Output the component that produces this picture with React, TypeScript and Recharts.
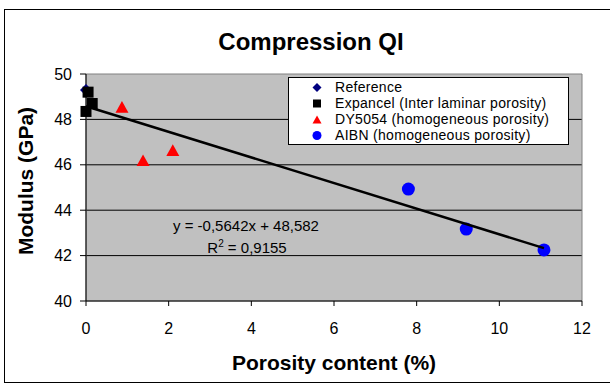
import React from "react";
import { CartesianGrid, ReferenceArea, Scatter, ScatterChart, XAxis, YAxis } from "recharts";

const title = "Compression QI";
const xLabel = "Porosity content (%)";
const yLabel = "Modulus (GPa)";
const equation = "y = -0,5642x + 48,582";
const rSquared = "0,9155";

const seriesNames = [
  "Reference",
  "Expancel (Inter laminar porosity)",
  "DY5054 (homogeneous porosity)",
  "AIBN (homogeneous porosity)"
];

const referenceX = [0];
const referenceY = [49.3];
const expancelX = [0.05, 0.15, 0.0];
const expancelY = [49.2, 48.7, 48.35];
const dy5054X = [0.87, 1.38, 2.1];
const dy5054Y = [48.55, 46.2, 46.65];
const aibnX = [7.8, 9.2, 11.08];
const aibnY = [44.93, 43.17, 42.25];
const trendX = [0, 11.08];
const trendY = [48.582, 42.33];

const xTicks = [0, 2, 4, 6, 8, 10, 12];
const yTicks = [40, 42, 44, 46, 48, 50];
const gridValues = [42, 44, 46, 48];

function toPoints(xs: number[], ys: number[]) {
  return xs.map((x, i) => ({ x, y: ys[i] }));
}

const FONT = '"Liberation Sans", Arial, sans-serif';

function Diamond({ cx, cy, r = 6 }: any) {
  return <path d={`M${cx},${cy - r}L${cx + r},${cy}L${cx},${cy + r}L${cx - r},${cy}Z`} fill="#000080" />;
}

function Square({ cx, cy, s = 11 }: any) {
  return <rect x={cx - s / 2} y={cy - s / 2} width={s} height={s} fill="#000" />;
}

function Triangle({ cx, cy, w = 13 }: any) {
  const h = w * 0.9;
  return <path d={`M${cx},${cy - h / 2}L${cx + w / 2},${cy + h / 2}L${cx - w / 2},${cy + h / 2}Z`} fill="#FF0000" />;
}

function Dot({ cx, cy, r = 6.5 }: any) {
  return <circle cx={cx} cy={cy} r={r} fill="#0000FF" />;
}

function Overlay() {
  const legendRows = [
    (cx: number, cy: number) => <Diamond cx={cx} cy={cy} r={4.5} />,
    (cx: number, cy: number) => <Square cx={cx} cy={cy} s={8} />,
    (cx: number, cy: number) => <Triangle cx={cx} cy={cy} w={9} />,
    (cx: number, cy: number) => <Dot cx={cx} cy={cy} r={4.5} />
  ];
  return (
    <svg width={610} height={383} style={{ position: "absolute", left: 0, top: 0, pointerEvents: "none" }}>
      <text x={311} y={50} textAnchor="middle" fontSize={24} fontWeight="bold" fill="#000">
        {title}
      </text>
      <text x={334} y={370} textAnchor="middle" fontSize={21} fontWeight="bold" fill="#000">
        {xLabel}
      </text>
      <text x={33} y={181} textAnchor="middle" fontSize={21} fontWeight="bold" fill="#000" transform="rotate(-90 33 181)">
        {yLabel}
      </text>
      <text x={246} y={231} textAnchor="middle" fontSize={15} fill="#000">
        {equation}
      </text>
      <text x={247} y={253} textAnchor="middle" fontSize={15} fill="#000">
        R<tspan dy={-6} fontSize={10}>2</tspan>
        <tspan dy={6}>{" = " + rSquared}</tspan>
      </text>
      <rect x={288.5} y={77.5} width={280} height={67} fill="#fff" stroke="#000" />
      {seriesNames.map((name, i) => {
        const base = 92 + i * 16;
        return (
          <g key={name}>
            {legendRows[i](317, base - 4.5)}
            <text x={335} y={base} fontSize={14} letterSpacing={0.3} fill="#000">
              {name}
            </text>
          </g>
        );
      })}
    </svg>
  );
}

export default function App() {
  return (
    <div style={{ position: "relative", width: 610, height: 383, fontFamily: FONT, overflow: "hidden", background: "#fff" }}>
      <style>{`body{margin:0}`}</style>
      <div style={{ position: "absolute", left: 4, top: 9, width: 700, height: 372, border: "1px solid #000" }} />
      <ScatterChart width={610} height={383} margin={{ top: 74, right: 28, bottom: 22, left: 0 }}>
        <CartesianGrid vertical={false} stroke="#000" fill="#C0C0C0" fillOpacity={1} horizontalValues={gridValues} />
        <ReferenceArea x1={0} x2={12} y1={40} y2={50} fill="none" stroke="#808080" strokeWidth={1} ifOverflow="visible" />
        <XAxis
          type="number"
          dataKey="x"
          domain={[0, 12]}
          ticks={xTicks}
          height={60}
          stroke="#000"
          tickSize={5}
          tickMargin={17}
          tick={{ fill: "#000", fontSize: 16 }}
        />
        <YAxis
          type="number"
          dataKey="y"
          domain={[40, 50]}
          ticks={yTicks}
          width={86}
          stroke="#000"
          tickSize={6}
          tickMargin={8}
          tick={{ fill: "#000", fontSize: 16 }}
        />
        <Scatter data={toPoints(referenceX, referenceY)} shape={(p: any) => <Diamond cx={p.cx} cy={p.cy} />} isAnimationActive={false} />
        <Scatter data={toPoints(expancelX, expancelY)} shape={(p: any) => <Square cx={p.cx} cy={p.cy} />} isAnimationActive={false} />
        <Scatter data={toPoints(dy5054X, dy5054Y)} shape={(p: any) => <Triangle cx={p.cx} cy={p.cy} />} isAnimationActive={false} />
        <Scatter data={toPoints(aibnX, aibnY)} shape={(p: any) => <Dot cx={p.cx} cy={p.cy} />} isAnimationActive={false} />
        <Scatter
          data={toPoints(trendX, trendY)}
          line={{ stroke: "#000", strokeWidth: 2.5 }}
          shape={() => <g />}
          isAnimationActive={false}
        />
      </ScatterChart>
      <Overlay />
    </div>
  );
}
